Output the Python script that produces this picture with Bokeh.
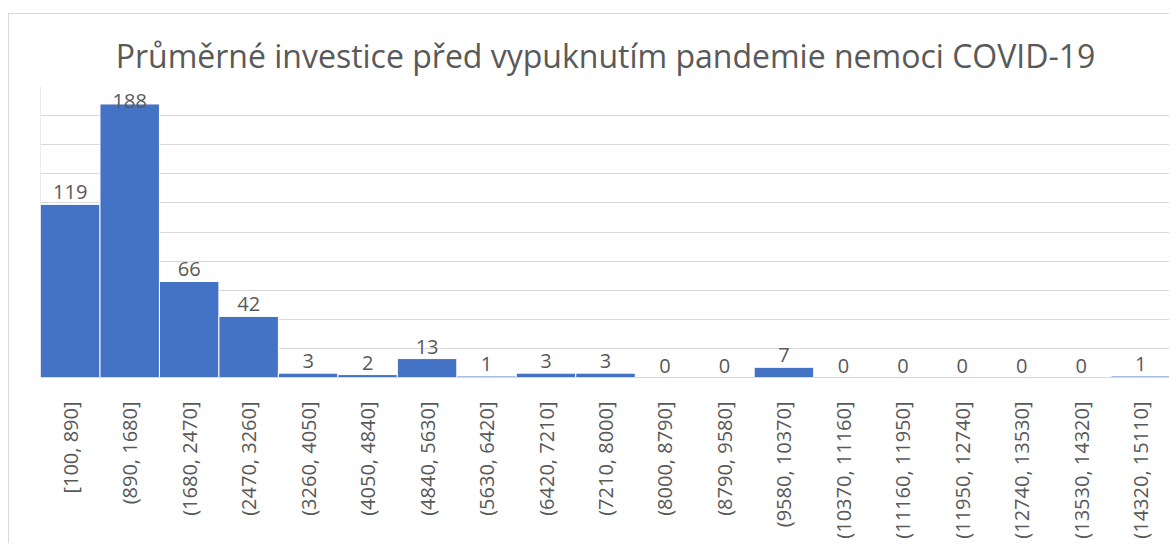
import math
import numpy as np
from bokeh.plotting import figure
from bokeh.models import ColumnDataSource, SingleIntervalTicker, Span
from bokeh.core.properties import value
from bokeh.embed import file_html
from bokeh.resources import INLINE

title_text = "Průměrné investice před vypuknutím pandemie nemoci COVID-19"
bins = ["[100, 890]", "(890, 1680]", "(1680, 2470]", "(2470, 3260]", "(3260, 4050]",
        "(4050, 4840]", "(4840, 5630]", "(5630, 6420]", "(6420, 7210]", "(7210, 8000]",
        "(8000, 8790]", "(8790, 9580]", "(9580, 10370]", "(10370, 11160]", "(11160, 11950]",
        "(11950, 12740]", "(12740, 13530]", "(13530, 14320]", "(14320, 15110]"]
counts = [119, 188, 66, 42, 3, 2, 13, 1, 3, 3, 0, 0, 7, 0, 0, 0, 0, 0, 1]

FONT = "Open Sans"
TXT = "#595959"
GRID = "#D9D9D9"

p = figure(x_range=bins, y_range=(0, 200), width=1161, height=530,
           output_backend="svg", toolbar_location=None,
           min_border_left=31, min_border_right=0, min_border_top=72, min_border_bottom=167,
           styles={"border-left": "1px solid #D9D9D9", "border-top": "1px solid #D9D9D9",
                   "margin-top": "13px", "margin-left": "8px"})

p.vbar(x=bins, top=counts, width=1, fill_color="#4472C4", line_color="white", line_width=1)

src = ColumnDataSource(dict(x=bins, y=np.minimum(np.array(counts), 182),
                            t=[str(c) for c in counts]))
p.text(x="x", y="y", text="t", source=src, text_align="center", text_baseline="bottom",
       y_offset=-5, text_font=value(FONT), text_font_size="20px", text_color=TXT)

p.title.text = title_text
p.title.align = "center"
p.title.text_font = FONT
p.title.text_font_style = "normal"
p.title.text_font_size = "32px"
p.title.text_color = TXT
p.title.standoff = 20

p.outline_line_color = None
p.xgrid.grid_line_color = None
p.ygrid.ticker = SingleIntervalTicker(interval=20)
p.ygrid.grid_line_color = GRID
p.ygrid.grid_line_width = 1

p.xaxis.major_label_orientation = math.pi / 2
p.xaxis.major_tick_line_color = None
p.xaxis.minor_tick_line_color = None
p.xaxis.axis_line_color = GRID
p.xaxis.major_label_text_font = FONT
p.xaxis.major_label_text_font_size = "20px"
p.xaxis.major_label_text_color = TXT
p.xaxis.major_label_standoff = 18

p.yaxis.visible = False
p.add_layout(Span(location=0, dimension="height", line_color=GRID, line_width=1))

open("out.html", "w").write(file_html(p, INLINE))
